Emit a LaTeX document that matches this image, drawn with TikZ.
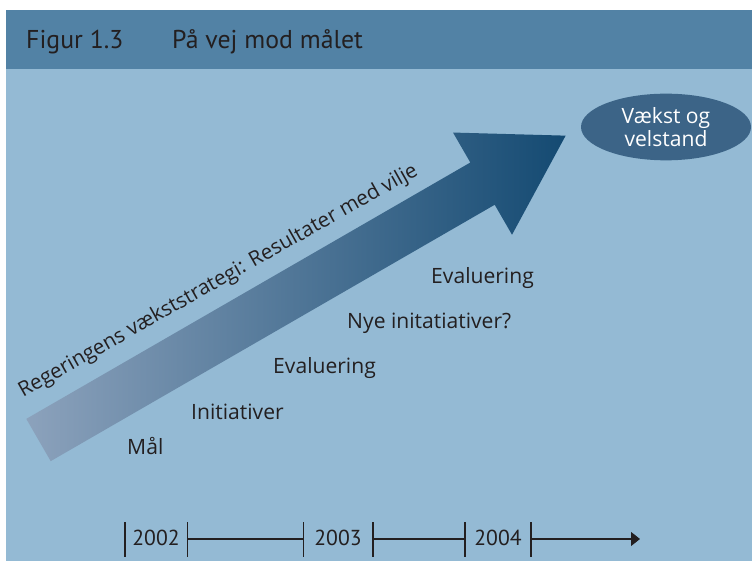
\documentclass[tikz,border=0pt]{standalone}
\usepackage{fontspec}
\setmainfont{Open Sans}
\newfontfamily\condfont{PT Sans}
\usepackage{tikz}
\usetikzlibrary{arrows.meta,positioning,shapes.geometric}
\definecolor{panel}{RGB}{148,186,212}
\definecolor{titlebar}{RGB}{82,130,165}
\definecolor{ink}{RGB}{35,31,32}
\definecolor{tailc}{RGB}{140,162,188}
\definecolor{headc}{RGB}{20,74,114}
\definecolor{goal}{RGB}{60,100,135}

\begin{document}
\begin{tikzpicture}[x=0.03cm,y=0.03cm,font=\fontsize{18}{21}\selectfont,text=ink]
\tikzset{lbl/.style={anchor=base west,inner sep=0pt},
  head/.style={lbl,font=\condfont\fontsize{22}{26}\selectfont},
  year/.style={anchor=base,inner sep=0pt,font=\condfont\fontsize{18.5}{20}\selectfont},
  tick/.style={draw=ink,line width=1.1pt},
  span/.style={draw=ink,line width=0.9pt}}
\useasboundingbox (0,0) rectangle (752,561);
\fill[white] (0,0) rectangle (752,561);
\fill[panel] (6,0) rectangle (752,492);
\fill[titlebar] (6,492) rectangle (752,551);
\node[head] (fig) at (26,512) {Figur 1.3};
\node[head] (title) at (172,512) {På vej mod målet};
% the big arrow
\begin{scope}[shift={(38.5,121)},rotate=30]
\shade[left color=tailc,right color=headc] (0,-24.4) -- (512.7,-24.4) -- (512.7,-59) -- (608.7,0)
  -- (512.7,59) -- (512.7,24.4) -- (0,24.4) -- cycle;
\node[anchor=base,rotate=29.4,inner sep=0pt,font=\fontsize{17.6}{20}\selectfont] (strategy) at (235,42)
  {Regeringens vækststrategi: Resultater med vilje};
\end{scope}
\node[ellipse,fill=goal,text=white,align=center,minimum width=5.1cm,minimum height=2.0cm,inner sep=0pt,
  font=\fontsize{18}{19.6}\selectfont] (goal) at (666,434) {Vækst og\\velstand};
% steps
\node[lbl] (maal) at (127,106) {Mål};
\node[lbl] (init) at (191,141) {Initiativer};
\node[lbl] (eval1) at (273,187) {Evaluering};
\node[lbl] (nye) at (347,232) {Nye initatiativer?};
\node[lbl] (eval2) at (431,277) {Evaluering};
% time line
\foreach \i/\x in {1/125,2/187.5,3/303.5,4/373,5/465,6/531}{
  \coordinate (t\i) at (\x,22);
  \draw[tick] (\x,4) -- (\x,39);
}
\coordinate (tend) at (640,22);
\node[year] (y2002) at (156,15) {2002};
\node[year] (y2003) at (338,15) {2003};
\node[year] (y2004) at (498,15) {2004};
\draw[span] (t2) -- (t3);
\draw[span] (t4) -- (t5);
\draw[span,-{Triangle[length=0.27cm,width=0.42cm]}] (t6) -- (tend);
\end{tikzpicture}
\end{document}
